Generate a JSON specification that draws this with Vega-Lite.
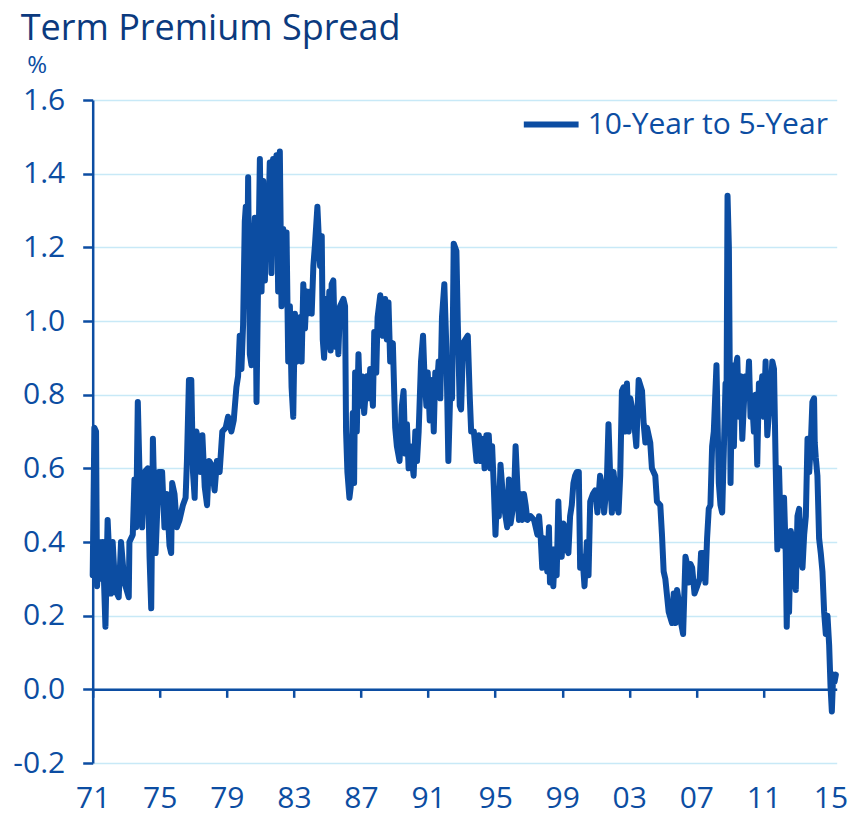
{
  "$schema": "https://vega.github.io/schema/vega-lite/v6.json",
  "width": 744,
  "height": 663,
  "autosize": {"type": "none"},
  "padding": {"left": 92.7, "top": 100, "right": 14.3, "bottom": 53},
  "config": {"view": {"stroke": null}, "font": "Open Sans"},
  "title": {"text": "Term Premium Spread", "anchor": "start", "frame": "group", "fontSize": 36, "font": "Open Sans", "fontWeight": "normal", "color": "#0b3a7e", "dx": -72, "dy": 37, "offset": 14, "baseline": "alphabetic"},
  "data": {"values": [
    {"t":1971.00,"v":0.31},{"t":1971.10,"v":0.71},{"t":1971.20,"v":0.70},{"t":1971.26,"v":0.28},{"t":1971.40,"v":0.40},{"t":1971.50,"v":0.30},{"t":1971.60,"v":0.40},{"t":1971.76,"v":0.17},{"t":1971.89,"v":0.46},{"t":1972.09,"v":0.26},{"t":1972.19,"v":0.40},{"t":1972.35,"v":0.27},{"t":1972.55,"v":0.25},{"t":1972.69,"v":0.40},{"t":1972.89,"v":0.29},{"t":1973.15,"v":0.25},{"t":1973.19,"v":0.40},{"t":1973.39,"v":0.42},{"t":1973.49,"v":0.57},{"t":1973.59,"v":0.44},{"t":1973.69,"v":0.78},{"t":1973.79,"v":0.59},{"t":1973.95,"v":0.44},{"t":1974.09,"v":0.59},{"t":1974.29,"v":0.60},{"t":1974.39,"v":0.36},{"t":1974.49,"v":0.22},{"t":1974.59,"v":0.68},{"t":1974.75,"v":0.37},{"t":1974.94,"v":0.59},{"t":1975.14,"v":0.59},{"t":1975.28,"v":0.44},{"t":1975.42,"v":0.53},{"t":1975.58,"v":0.39},{"t":1975.68,"v":0.37},{"t":1975.74,"v":0.56},{"t":1975.88,"v":0.53},{"t":1976.02,"v":0.44},{"t":1976.18,"v":0.46},{"t":1976.38,"v":0.50},{"t":1976.54,"v":0.52},{"t":1976.62,"v":0.62},{"t":1976.74,"v":0.84},{"t":1976.88,"v":0.84},{"t":1976.98,"v":0.59},{"t":1977.08,"v":0.52},{"t":1977.18,"v":0.70},{"t":1977.28,"v":0.68},{"t":1977.42,"v":0.59},{"t":1977.54,"v":0.69},{"t":1977.68,"v":0.55},{"t":1977.82,"v":0.50},{"t":1977.94,"v":0.62},{"t":1978.08,"v":0.61},{"t":1978.27,"v":0.54},{"t":1978.41,"v":0.62},{"t":1978.57,"v":0.59},{"t":1978.73,"v":0.70},{"t":1978.93,"v":0.71},{"t":1979.07,"v":0.74},{"t":1979.27,"v":0.70},{"t":1979.41,"v":0.73},{"t":1979.57,"v":0.82},{"t":1979.67,"v":0.85},{"t":1979.77,"v":0.96},{"t":1979.87,"v":0.87},{"t":1979.97,"v":0.99},{"t":1980.07,"v":1.27},{"t":1980.13,"v":1.31},{"t":1980.21,"v":1.11},{"t":1980.27,"v":1.39},{"t":1980.37,"v":0.91},{"t":1980.47,"v":0.88},{"t":1980.57,"v":1.18},{"t":1980.67,"v":1.28},{"t":1980.77,"v":0.78},{"t":1980.87,"v":1.13},{"t":1980.97,"v":1.44},{"t":1981.07,"v":1.08},{"t":1981.17,"v":1.38},{"t":1981.27,"v":1.11},{"t":1981.37,"v":1.36},{"t":1981.46,"v":1.24},{"t":1981.56,"v":1.43},{"t":1981.66,"v":1.13},{"t":1981.76,"v":1.44},{"t":1981.86,"v":1.22},{"t":1981.96,"v":1.45},{"t":1982.06,"v":1.08},{"t":1982.16,"v":1.46},{"t":1982.26,"v":1.04},{"t":1982.36,"v":1.25},{"t":1982.46,"v":1.05},{"t":1982.56,"v":1.24},{"t":1982.66,"v":0.89},{"t":1982.76,"v":1.04},{"t":1982.86,"v":0.82},{"t":1982.96,"v":0.74},{"t":1983.06,"v":1.02},{"t":1983.16,"v":0.89},{"t":1983.26,"v":0.99},
    {"t":1983.36,"v":1.01},{"t":1983.46,"v":0.89},{"t":1983.56,"v":1.10},{"t":1983.66,"v":0.98},{"t":1983.76,"v":1.08},{"t":1983.86,"v":1.02},{"t":1983.96,"v":1.08},{"t":1984.06,"v":1.02},{"t":1984.16,"v":1.15},{"t":1984.26,"v":1.21},{"t":1984.40,"v":1.31},{"t":1984.56,"v":1.15},{"t":1984.66,"v":1.23},{"t":1984.72,"v":0.95},{"t":1984.80,"v":0.90},{"t":1984.92,"v":1.06},{"t":1985.00,"v":0.93},{"t":1985.11,"v":1.08},{"t":1985.19,"v":0.92},{"t":1985.25,"v":1.10},{"t":1985.35,"v":1.11},{"t":1985.45,"v":0.93},{"t":1985.55,"v":1.03},{"t":1985.65,"v":0.91},{"t":1985.75,"v":1.04},{"t":1985.95,"v":1.06},{"t":1986.05,"v":1.04},{"t":1986.11,"v":0.70},{"t":1986.19,"v":0.59},{"t":1986.31,"v":0.52},{"t":1986.39,"v":0.55},{"t":1986.51,"v":0.75},{"t":1986.59,"v":0.56},{"t":1986.65,"v":0.86},{"t":1986.75,"v":0.70},{"t":1986.85,"v":0.91},{"t":1986.95,"v":0.77},{"t":1987.05,"v":0.85},{"t":1987.19,"v":0.75},{"t":1987.35,"v":0.85},{"t":1987.45,"v":0.79},{"t":1987.55,"v":0.87},{"t":1987.71,"v":0.77},{"t":1987.79,"v":0.97},{"t":1987.91,"v":0.86},{"t":1987.99,"v":1.01},{"t":1988.15,"v":1.07},{"t":1988.30,"v":0.96},{"t":1988.44,"v":1.06},{"t":1988.54,"v":0.95},{"t":1988.64,"v":1.05},{"t":1988.74,"v":0.89},{"t":1988.90,"v":0.94},{"t":1989.04,"v":0.71},{"t":1989.14,"v":0.66},{"t":1989.30,"v":0.62},{"t":1989.44,"v":0.77},{"t":1989.54,"v":0.81},{"t":1989.64,"v":0.64},{"t":1989.74,"v":0.72},{"t":1989.84,"v":0.60},{"t":1989.94,"v":0.66},{"t":1990.14,"v":0.58},{"t":1990.24,"v":0.70},{"t":1990.34,"v":0.62},{"t":1990.44,"v":0.70},{"t":1990.58,"v":0.89},{"t":1990.70,"v":0.96},{"t":1990.78,"v":0.86},{"t":1990.90,"v":0.77},{"t":1990.98,"v":0.86},{"t":1991.10,"v":0.73},{"t":1991.24,"v":0.84},{"t":1991.34,"v":0.70},{"t":1991.43,"v":0.86},{"t":1991.53,"v":0.82},{"t":1991.63,"v":0.89},{"t":1991.73,"v":0.79},{"t":1991.83,"v":1.01},{"t":1991.97,"v":1.10},{"t":1992.09,"v":0.93},{"t":1992.21,"v":0.62},{"t":1992.33,"v":0.82},{"t":1992.43,"v":0.79},{"t":1992.53,"v":1.21},{"t":1992.69,"v":1.19},{"t":1992.77,"v":1.00},{"t":1992.89,"v":0.77},{"t":1992.97,"v":0.76},{"t":1993.09,"v":0.94},{"t":1993.23,"v":0.95},{"t":1993.37,"v":0.96},{"t":1993.49,"v":0.79},{"t":1993.57,"v":0.70},{"t":1993.73,"v":0.70},{"t":1993.89,"v":0.62},{"t":1994.03,"v":0.69},{"t":1994.13,"v":0.62},{"t":1994.29,"v":0.68},{"t":1994.37,"v":0.60},{"t":1994.48,"v":0.69},{"t":1994.62,"v":0.69},{"t":1994.72,"v":0.60},{"t":1994.82,"v":0.66},{"t":1994.92,"v":0.55},{"t":1995.02,"v":0.42},{"t":1995.12,"v":0.54},{"t":1995.22,"v":0.47},{"t":1995.32,"v":0.61},{"t":1995.42,"v":0.55},{"t":1995.52,"v":0.50},{"t":1995.62,"v":0.47},{"t":1995.72,"v":0.44},{"t":1995.82,"v":0.57},{"t":1995.92,"v":0.45},{"t":1996.12,"v":0.51},{"t":1996.22,"v":0.66},{"t":1996.32,"v":0.56},{"t":1996.42,"v":0.46},{"t":1996.52,"v":0.53},{"t":1996.62,"v":0.46},{"t":1996.72,"v":0.53},{"t":1996.82,"v":0.50},{"t":1996.92,"v":0.46},{"t":1997.12,"v":0.47},{"t":1997.32,"v":0.46},{"t":1997.52,"v":0.42},{"t":1997.62,"v":0.47},{"t":1997.72,"v":0.41},{"t":1997.81,"v":0.33},{"t":1997.91,"v":0.41},{"t":1998.11,"v":0.32},{"t":1998.21,"v":0.44},
    {"t":1998.27,"v":0.29},{"t":1998.37,"v":0.38},{"t":1998.47,"v":0.28},{"t":1998.57,"v":0.38},{"t":1998.67,"v":0.31},{"t":1998.77,"v":0.51},{"t":1998.87,"v":0.37},{"t":1998.97,"v":0.36},{"t":1999.07,"v":0.45},{"t":1999.17,"v":0.44},{"t":1999.27,"v":0.38},{"t":1999.37,"v":0.37},{"t":1999.47,"v":0.47},{"t":1999.57,"v":0.50},{"t":1999.67,"v":0.56},{"t":1999.77,"v":0.58},{"t":1999.87,"v":0.59},{"t":1999.99,"v":0.59},{"t":2000.07,"v":0.33},{"t":2000.21,"v":0.36},{"t":2000.33,"v":0.28},{"t":2000.47,"v":0.40},{"t":2000.57,"v":0.31},{"t":2000.67,"v":0.51},{"t":2000.83,"v":0.53},{"t":2000.96,"v":0.54},{"t":2001.10,"v":0.48},{"t":2001.26,"v":0.58},{"t":2001.42,"v":0.54},{"t":2001.50,"v":0.48},{"t":2001.66,"v":0.56},{"t":2001.76,"v":0.72},{"t":2001.86,"v":0.58},{"t":2001.96,"v":0.48},{"t":2002.06,"v":0.59},{"t":2002.26,"v":0.50},{"t":2002.36,"v":0.48},{"t":2002.46,"v":0.58},{"t":2002.56,"v":0.81},{"t":2002.66,"v":0.82},{"t":2002.76,"v":0.70},{"t":2002.86,"v":0.83},{"t":2002.96,"v":0.70},{"t":2003.06,"v":0.79},{"t":2003.26,"v":0.74},{"t":2003.42,"v":0.66},{"t":2003.56,"v":0.84},{"t":2003.76,"v":0.81},{"t":2003.86,"v":0.72},{"t":2003.96,"v":0.67},{"t":2004.06,"v":0.71},{"t":2004.25,"v":0.67},{"t":2004.35,"v":0.60},{"t":2004.55,"v":0.58},{"t":2004.65,"v":0.51},{"t":2004.85,"v":0.50},{"t":2004.95,"v":0.42},{"t":2005.05,"v":0.32},{"t":2005.15,"v":0.30},{"t":2005.35,"v":0.21},{"t":2005.55,"v":0.18},{"t":2005.65,"v":0.26},{"t":2005.75,"v":0.18},{"t":2005.85,"v":0.27},{"t":2005.95,"v":0.24},{"t":2006.05,"v":0.19},{"t":2006.21,"v":0.15},{"t":2006.35,"v":0.36},{"t":2006.45,"v":0.34},{"t":2006.55,"v":0.29},{"t":2006.65,"v":0.34},{"t":2006.75,"v":0.33},{"t":2006.89,"v":0.26},{"t":2007.05,"v":0.28},{"t":2007.20,"v":0.30},{"t":2007.28,"v":0.37},{"t":2007.44,"v":0.37},{"t":2007.54,"v":0.29},{"t":2007.64,"v":0.41},{"t":2007.74,"v":0.49},{"t":2007.84,"v":0.50},{"t":2007.94,"v":0.66},{"t":2008.04,"v":0.70},{"t":2008.20,"v":0.88},{"t":2008.34,"v":0.56},{"t":2008.44,"v":0.50},{"t":2008.54,"v":0.48},{"t":2008.64,"v":0.65},{"t":2008.74,"v":0.83},{"t":2008.80,"v":0.79},{"t":2008.86,"v":1.34},{"t":2008.94,"v":1.20},{"t":2009.04,"v":0.56},{"t":2009.14,"v":0.88},{"t":2009.24,"v":0.66},{"t":2009.34,"v":0.87},{"t":2009.44,"v":0.90},{"t":2009.54,"v":0.74},{"t":2009.64,"v":0.85},{"t":2009.74,"v":0.68},{"t":2009.84,"v":0.78},{"t":2009.94,"v":0.85},{"t":2010.04,"v":0.80},{"t":2010.14,"v":0.89},{"t":2010.23,"v":0.74},{"t":2010.33,"v":0.78},{"t":2010.43,"v":0.70},{"t":2010.53,"v":0.80},{"t":2010.63,"v":0.61},{"t":2010.73,"v":0.83},{"t":2010.83,"v":0.80},{"t":2010.93,"v":0.85},{"t":2011.03,"v":0.74},{"t":2011.13,"v":0.89},{"t":2011.23,"v":0.69},{"t":2011.33,"v":0.75},{"t":2011.43,"v":0.80},{"t":2011.53,"v":0.89},{"t":2011.63,"v":0.87},{"t":2011.73,"v":0.61},{"t":2011.83,"v":0.38},{"t":2011.93,"v":0.60},{"t":2012.03,"v":0.43},{"t":2012.13,"v":0.39},{"t":2012.23,"v":0.52},{"t":2012.33,"v":0.37},{"t":2012.39,"v":0.17},{"t":2012.47,"v":0.37},{"t":2012.53,"v":0.21},{"t":2012.63,"v":0.43},{"t":2012.73,"v":0.28},{"t":2012.83,"v":0.42},{"t":2012.93,"v":0.27},{"t":2013.03,"v":0.47},{"t":2013.13,"v":0.49},{"t":2013.23,"v":0.37},{"t":2013.33,"v":0.33},{"t":2013.43,"v":0.42},{"t":2013.53,"v":0.47},{"t":2013.63,"v":0.68},{"t":2013.73,"v":0.59},{"t":2013.83,"v":0.67},{"t":2013.92,"v":0.78},{"t":2014.02,"v":0.79},{"t":2014.06,"v":0.67},{"t":2014.12,"v":0.63},{"t":2014.22,"v":0.58},{"t":2014.32,"v":0.41},{"t":2014.42,"v":0.37},{"t":2014.52,"v":0.32},{"t":2014.62,"v":0.21},{"t":2014.72,"v":0.15},{"t":2014.82,"v":0.20},{"t":2014.92,"v":0.12},{"t":2015.00,"v":0.01},{"t":2015.08,"v":-0.06},{"t":2015.16,"v":0.04},{"t":2015.24,"v":0.02},{"t":2015.32,"v":0.04}
  ]},
  "mark": {"type": "line", "strokeWidth": 6, "strokeJoin": "round", "strokeCap": "round"},
  "encoding": {
    "x": {"field": "t", "type": "quantitative",
      "scale": {"domain": [1971, 2015.37], "nice": false, "zero": false},
      "axis": {"orient": "bottom", "offset": -73.67, "values": [1971,1975,1979,1983,1987,1991,1995,1999,2003,2007,2011,2015],
        "labelExpr": "substring(format(datum.value, 'd'), 2, 4)", "labelFontSize": 30, "labelFont": "Open Sans", "labelColor": "#0c4da2",
        "tickSize": 8, "tickWidth": 2.5, "tickColor": "#0c4da2", "domainColor": "#0c4da2", "domainWidth": 2.5,
        "labelPadding": 86, "grid": false, "title": null, "labelFlush": false, "labelOverlap": false}},
    "y": {"field": "v", "type": "quantitative",
      "scale": {"domain": [-0.2, 1.6], "nice": false, "zero": false},
      "axis": {"values": [-0.2,0,0.2,0.4,0.6,0.8,1.0,1.2,1.4,1.6],
        "labelExpr": "datum.value < 0 ? '-' + format(-datum.value, '.1f') : format(datum.value, '.1f')",
        "labelFontSize": 30, "labelFont": "Open Sans", "labelColor": "#0c4da2", "labelPadding": 18,
        "tickSize": 10, "tickWidth": 2.5, "tickColor": "#0c4da2", "domainColor": "#0c4da2", "domainWidth": 2.5,
        "gridColor": "#c8e9f7", "gridWidth": 1.5,
        "title": "%", "titleAngle": 0, "titleX": -56, "titleY": -35, "titleAlign": "center", "titleBaseline": "middle",
        "titleFontSize": 24, "titleFont": "Open Sans", "titleFontWeight": "normal", "titleColor": "#0c4da2"}},
    "color": {"datum": "10-Year to 5-Year", "type": "nominal", "scale": {"range": ["#0c4da2"]},
      "legend": {"orient": "none", "legendX": 428, "legendY": -6, "title": null, "symbolType": "stroke", "symbolSize": 3000,
        "symbolStrokeWidth": 6, "labelFontSize": 30, "labelFont": "Open Sans", "labelColor": "#0c4da2", "labelOffset": 6, "padding": 0, "labelLimit": 400}}
  }
}
